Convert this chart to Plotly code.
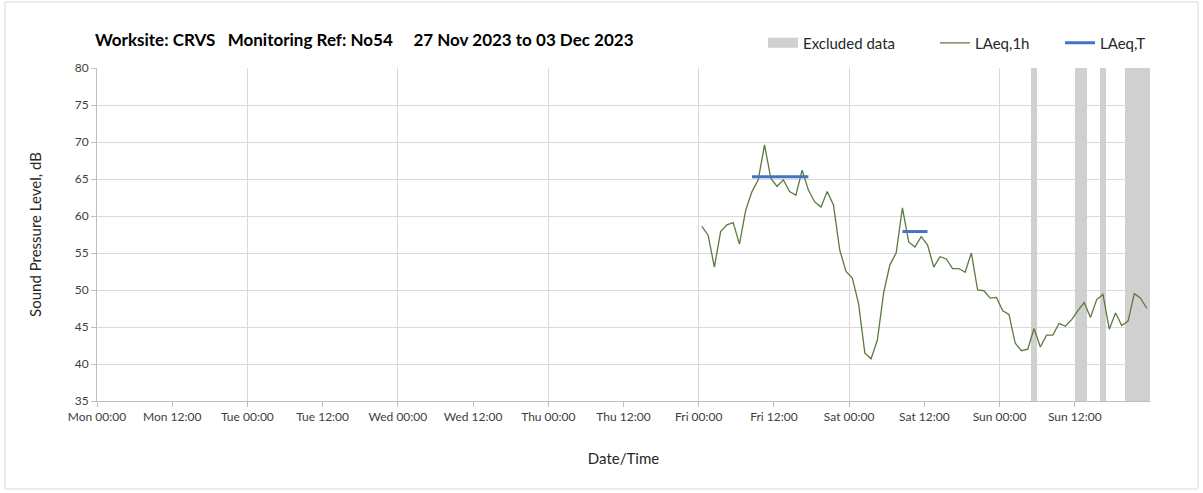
import pandas as pd
import plotly.graph_objects as go

# hourly LAeq,1h values, Fri 01 Dec 00:00 -> Sun 03 Dec 23:00 (plotted mid-hour)
laeq_1h = [
    58.6, 57.4, 53.1, 57.9, 58.8, 59.1, 56.2, 60.8, 63.3, 64.9, 69.6, 65.1,
    64.0, 64.9, 63.3, 62.8, 66.2, 63.5, 61.9, 61.2, 63.3, 61.5, 55.4, 52.5,
    51.6, 48.2, 41.5, 40.7, 43.2, 49.6, 53.4, 55.0, 61.1, 56.5, 55.8, 57.2,
    56.1, 53.1, 54.5, 54.2, 52.9, 52.9, 52.4, 55.0, 50.0, 49.9, 48.9, 49.0,
    47.2, 46.7, 42.8, 41.8, 42.0, 44.8, 42.3, 43.9, 43.9, 45.5, 45.1, 46.0,
    47.2, 48.3, 46.3, 48.7, 49.4, 44.7, 46.9, 45.2, 45.8, 49.5, 48.9, 47.5,
]
times_1h = pd.date_range("2023-12-01 00:30", periods=len(laeq_1h), freq="h")

# LAeq,T periods
laeq_t_start = ["2023-12-01 08:30", "2023-12-02 08:30"]
laeq_t_end = ["2023-12-01 17:30", "2023-12-02 12:30"]
laeq_t_val = [65.3, 57.9]

# excluded periods
excl_start = ["2023-12-03 05:00", "2023-12-03 12:00", "2023-12-03 16:00", "2023-12-03 20:00"]
excl_end = ["2023-12-03 06:00", "2023-12-03 14:00", "2023-12-03 17:00", "2023-12-04 00:00"]

Y_MIN, Y_MAX = 35, 80
X_START, X_END = "2023-11-27 00:00", "2023-12-04 00:00"

_FONT = dict(family="Lato, Open Sans, sans-serif", size=12, color="#404040")
_GRID = "#d9d9d9"
_EXCL = "#d0d0d0"
_LEG = dict(orientation="h", yanchor="middle", y=1.075,
            font=dict(size=15, color="#262626"), bgcolor="rgba(0,0,0,0)")

fig = go.Figure()

# excluded data bands as bars
s = pd.to_datetime(excl_start)
e = pd.to_datetime(excl_end)
fig.add_trace(go.Bar(
    x=s + (e - s) / 2,
    y=[Y_MAX - Y_MIN] * len(s),
    base=Y_MIN,
    width=[(b - a).total_seconds() * 1000 for a, b in zip(s, e)],
    marker=dict(color=_EXCL, line=dict(width=0)),
    name="Excluded data",
    showlegend=False,
    hoverinfo="skip",
))
# legend swatch for the bands
fig.add_trace(go.Scatter(
    x=[None], y=[None], mode="lines",
    line=dict(color=_EXCL, width=10),
    name="Excluded data", legend="legend",
))

fig.add_trace(go.Scatter(
    x=times_1h, y=laeq_1h,
    mode="lines",
    line=dict(color="#5b7a3c", width=1.3),
    name="LAeq,1h", legend="legend2",
))

tx, ty = [], []
for a, b, v in zip(laeq_t_start, laeq_t_end, laeq_t_val):
    tx += [a, b, None]
    ty += [v, v, None]
fig.add_trace(go.Scatter(
    x=tx, y=ty,
    mode="lines",
    line=dict(color="#4472c4", width=3),
    name="LAeq,T", legend="legend3",
    connectgaps=False,
))

tickvals = pd.date_range(X_START, periods=14, freq="12h")
fig.update_layout(
    width=1203, height=493,
    margin=dict(l=97, r=53, t=68, b=92),
    paper_bgcolor="#ffffff",
    plot_bgcolor="#ffffff",
    font=_FONT,
    bargap=0,
    title=dict(
        text="<b>Worksite: CRVS&nbsp;&nbsp; Monitoring Ref: No54&nbsp;&nbsp;&nbsp;&nbsp; 27 Nov 2023 to 03 Dec 2023</b>",
        xref="container", x=95 / 1203, xanchor="left",
        yref="container", y=1 - 40 / 493, yanchor="middle",
        font=dict(family="Lato, sans-serif", size=17, color="#000000"),
    ),
    legend=dict(_LEG, xanchor="left", x=(763 - 97) / 1053),
    legend2=dict(_LEG, xanchor="left", x=(935 - 97) / 1053),
    legend3=dict(_LEG, xanchor="left", x=(1060 - 97) / 1053),
    xaxis=dict(
        type="date",
        range=[X_START, X_END],
        tickvals=tickvals,
        tickformat="%a %H:%M",
        ticks="outside", ticklen=5, tickcolor="#bfbfbf",
        showgrid=False,
        minor=dict(dtick=24 * 3600 * 1000, tick0=X_START, showgrid=True,
                   gridcolor=_GRID, gridwidth=1, ticks=""),
        showline=True, linecolor="#bfbfbf", linewidth=1,
        title=dict(text="Date/Time", font=dict(size=15, color="#262626"), standoff=30),
        zeroline=False,
    ),
    yaxis=dict(
        range=[Y_MIN, Y_MAX],
        dtick=5,
        ticks="outside", ticklen=5, tickcolor="#bfbfbf",
        showgrid=True, gridcolor=_GRID, gridwidth=1,
        showline=True, linecolor="#bfbfbf", linewidth=1,
        title=dict(text="Sound Pressure Level, dB", font=dict(size=15, color="#262626"), standoff=29),
        zeroline=False,
    ),
)

# outer chart border
fig.add_shape(type="rect", xref="paper", yref="paper",
              x0=-92 / 1053, x1=1 + 48 / 1053, y0=-88 / 333, y1=1 + 66 / 333,
              line=dict(color="#d9d9d9", width=1), layer="below")

# page body has a default margin; drop it so the figure sits at 0,0
fig.write_html("out.html", config={"displayModeBar": False},
               post_script="document.body.style.margin='0';")
